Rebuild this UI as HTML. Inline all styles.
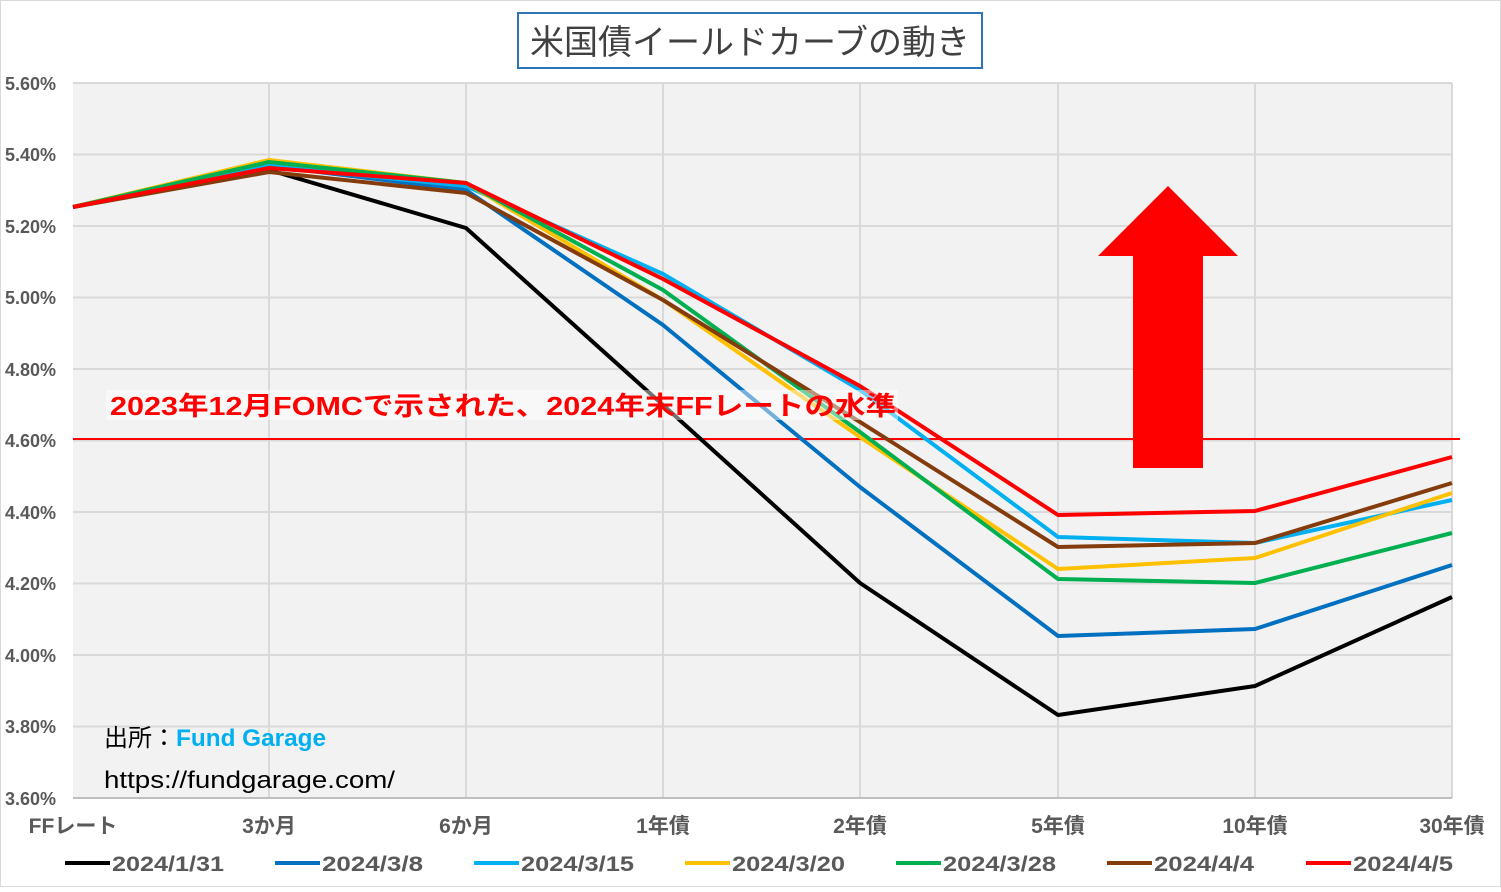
<!DOCTYPE html>
<html><head><meta charset="utf-8"><style>
body{margin:0;background:#fff;width:1501px;height:887px;overflow:hidden;font-family:"Liberation Sans","Noto Sans CJK JP",sans-serif}
</style></head><body>
<svg width="1501" height="887" xmlns="http://www.w3.org/2000/svg" font-family="Liberation Sans, Noto Sans CJK JP, sans-serif">
<rect x="0.5" y="0.5" width="1500" height="886" fill="#fff" stroke="#d9d9d9"/>
<rect x="73" y="83" width="1379" height="715" fill="#f2f2f2"/>
<g stroke="#d9d9d9" stroke-width="2">
<line x1="73" y1="83" x2="1452" y2="83"/><line x1="73" y1="154.5" x2="1452" y2="154.5"/><line x1="73" y1="226" x2="1452" y2="226"/><line x1="73" y1="297.5" x2="1452" y2="297.5"/><line x1="73" y1="369" x2="1452" y2="369"/><line x1="73" y1="440.5" x2="1452" y2="440.5"/><line x1="73" y1="512" x2="1452" y2="512"/><line x1="73" y1="583.5" x2="1452" y2="583.5"/><line x1="73" y1="655" x2="1452" y2="655"/><line x1="73" y1="726.5" x2="1452" y2="726.5"/>
<line x1="269" y1="83" x2="269" y2="798"/><line x1="466" y1="83" x2="466" y2="798"/><line x1="663" y1="83" x2="663" y2="798"/><line x1="860" y1="83" x2="860" y2="798"/><line x1="1058" y1="83" x2="1058" y2="798"/><line x1="1255" y1="83" x2="1255" y2="798"/><line x1="1452" y1="83" x2="1452" y2="798"/>
</g>
<line x1="73" y1="798" x2="1452" y2="798" stroke="#bfbfbf" stroke-width="2"/>
<g fill="#595959" font-size="18" font-weight="bold" text-anchor="end">
<text x="56" y="90">5.60%</text><text x="56" y="161">5.40%</text><text x="56" y="233">5.20%</text><text x="56" y="304">5.00%</text><text x="56" y="376">4.80%</text><text x="56" y="447">4.60%</text><text x="56" y="519">4.40%</text><text x="56" y="590">4.20%</text><text x="56" y="662">4.00%</text><text x="56" y="733">3.80%</text><text x="56" y="805">3.60%</text>
</g>
<g fill="#595959" font-size="21" font-weight="bold" text-anchor="middle">
<text x="73" y="833">FFレート</text><text x="269" y="833">3か月</text><text x="466" y="833">6か月</text><text x="663" y="833">1年債</text><text x="860" y="833">2年債</text><text x="1058" y="833">5年債</text><text x="1255" y="833">10年債</text><text x="1452" y="833">30年債</text>
</g>
<line x1="73" y1="439" x2="1460" y2="439" stroke="#ff0000" stroke-width="2"/>
<g fill="none" stroke-width="4" stroke-linejoin="round">
<polyline stroke="#000" points="73,207 269,170 466,228 663,405 860,583 1058,715 1255,686 1452,597"/>
<polyline stroke="#0070c0" points="73,207 269,166 466,190 663,325 860,487 1058,636 1255,629 1452,565"/>
<polyline stroke="#00b0f0" points="73,207 269,166 466,186 663,274 860,390 1058,537 1255,543 1452,500"/>
<polyline stroke="#ffc000" points="73,207 269,160 466,183 663,300 860,437 1058,569 1255,558 1452,493"/>
<polyline stroke="#00b050" points="73,207 269,162 466,183 663,290 860,432 1058,579 1255,583 1452,533"/>
<polyline stroke="#843c0c" points="73,207 269,172 466,193 663,300 860,422 1058,547 1255,543 1452,483"/>
<polyline stroke="#ff0000" points="73,207 269,168 466,183 663,279 860,386 1058,515 1255,511 1452,457"/>
</g>
<rect x="106" y="390" width="792" height="30" fill="#fff" fill-opacity="0.45"/>
<text x="110" y="415" fill="#ff0000" font-size="26" font-weight="bold" textLength="786" lengthAdjust="spacingAndGlyphs">2023年12月FOMCで示された、2024年末FFレートの水準</text>
<polygon points="1168,186 1238,256 1203,256 1203,468 1133,468 1133,256 1098,256" fill="#ff0000"/>
<rect x="518" y="13" width="464" height="55" fill="#fff" stroke="#2e75b6" stroke-width="2"/>
<text x="750" y="54" text-anchor="middle" font-size="34" fill="#404040">米国債イールドカーブの動き</text>
<text x="104" y="746" font-size="24" fill="#000">出所：<tspan fill="#00b0f0" font-weight="bold" textLength="150" lengthAdjust="spacingAndGlyphs">Fund Garage</tspan></text>
<text x="104" y="788" font-size="24" fill="#000" textLength="291" lengthAdjust="spacingAndGlyphs">https://fundgarage.com/</text>
<g font-size="21" font-weight="bold" fill="#595959" stroke-width="4">
<line x1="65" y1="863" x2="110" y2="863" stroke="#000"/><text x="112" y="871" textLength="112" lengthAdjust="spacingAndGlyphs">2024/1/31</text>
<line x1="275" y1="863" x2="320" y2="863" stroke="#0070c0"/><text x="322" y="871" textLength="101" lengthAdjust="spacingAndGlyphs">2024/3/8</text>
<line x1="474" y1="863" x2="519" y2="863" stroke="#00b0f0"/><text x="521" y="871" textLength="113" lengthAdjust="spacingAndGlyphs">2024/3/15</text>
<line x1="685" y1="863" x2="730" y2="863" stroke="#ffc000"/><text x="732" y="871" textLength="113" lengthAdjust="spacingAndGlyphs">2024/3/20</text>
<line x1="896" y1="863" x2="941" y2="863" stroke="#00b050"/><text x="943" y="871" textLength="113" lengthAdjust="spacingAndGlyphs">2024/3/28</text>
<line x1="1107" y1="863" x2="1152" y2="863" stroke="#843c0c"/><text x="1154" y="871" textLength="100" lengthAdjust="spacingAndGlyphs">2024/4/4</text>
<line x1="1306" y1="863" x2="1351" y2="863" stroke="#ff0000"/><text x="1353" y="871" textLength="100" lengthAdjust="spacingAndGlyphs">2024/4/5</text>
</g>
</svg>
</body></html>
